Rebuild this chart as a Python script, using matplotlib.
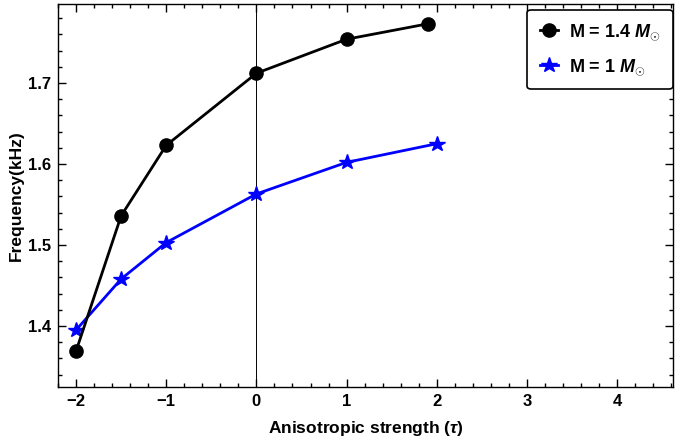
import matplotlib.pyplot as plt
from matplotlib.ticker import MultipleLocator

plt.rcParams['font.family'] = ['Liberation Sans', 'DejaVu Sans']
plt.rcParams['font.weight'] = 'bold'
plt.rcParams['mathtext.fontset'] = 'custom'
plt.rcParams['mathtext.it'] = 'Liberation Sans:italic:bold'
plt.rcParams['mathtext.rm'] = 'Liberation Sans:bold'

# data
tau_14 = [-2, -1.5, -1, 0, 1, 1.9]
freq_14 = [1.369, 1.536, 1.623, 1.712, 1.754, 1.773]
tau_10 = [-2, -1.5, -1, 0, 1, 2]
freq_10 = [1.395, 1.458, 1.503, 1.563, 1.602, 1.625]

fig = plt.figure(figsize=(6.76, 4.43), dpi=100)
ax = fig.add_axes([0.0858, 0.1264, 0.9098, 0.8646])

ax.axvline(0, color='black', lw=0.7, zorder=1)
ax.plot(tau_14, freq_14, '-o', color='black', lw=2, ms=9.5, label=r'M = 1.4 $M_{\odot}$', zorder=3)
ax.plot(tau_10, freq_10, '-*', color='#0000ff', lw=2, ms=11.5, label=r'M = 1 $M_{\odot}$', zorder=2)

ax.set_xlim(-2.2, 4.62)
ax.set_ylim(1.3247, 1.7975)
ax.xaxis.set_major_locator(MultipleLocator(1))
ax.xaxis.set_minor_locator(MultipleLocator(0.2))
ax.yaxis.set_major_locator(MultipleLocator(0.1))
ax.yaxis.set_minor_locator(MultipleLocator(0.02))
ax.tick_params(which='both', direction='in', top=True, right=True, labelsize=12, width=1)
ax.tick_params(which='major', length=6, pad=5)
ax.tick_params(which='minor', length=3)
for s in ax.spines.values():
    s.set_linewidth(1)

ax.set_xlabel(r'Anisotropic strength ($\tau$)', fontsize=12.5, fontweight='bold', labelpad=7)
ax.set_ylabel('Frequency(kHz)', fontsize=12.5, fontweight='bold', labelpad=3)

leg = ax.legend(loc='upper right', bbox_to_anchor=(1.0, 0.985), borderaxespad=0,
                fontsize=13, frameon=True, fancybox=True,
                edgecolor='black', framealpha=1, handlelength=1.0,
                borderpad=0.7, labelspacing=0.8, handletextpad=0.6)
leg.get_frame().set_linewidth(1.2)

fig.savefig('out.png', dpi=100)
